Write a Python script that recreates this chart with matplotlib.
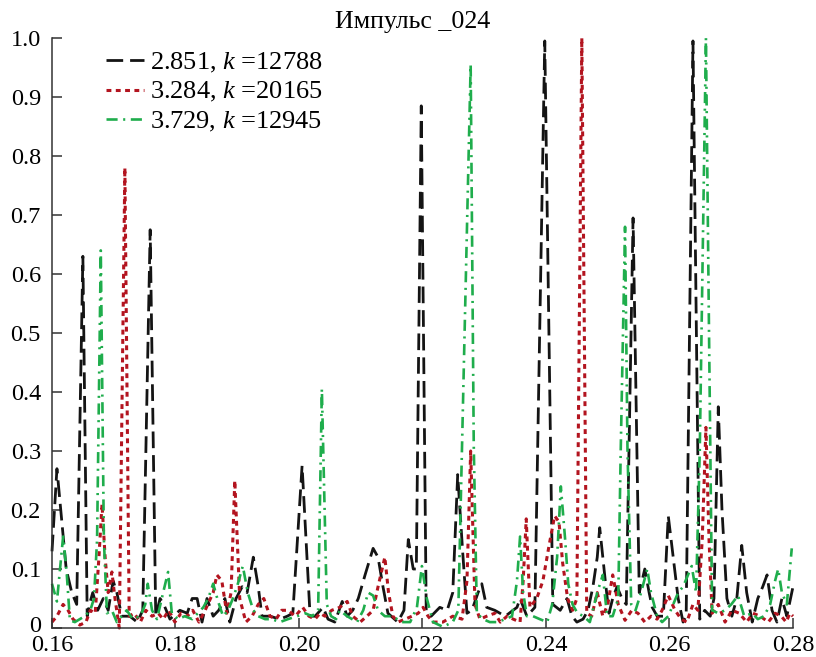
import matplotlib
matplotlib.use("Agg")
import matplotlib.pyplot as plt
import matplotlib.transforms as mtransforms

plt.rcParams['font.family'] = ['Liberation Serif', 'DejaVu Serif']
plt.rcParams['mathtext.fontset'] = 'custom'
plt.rcParams['mathtext.rm'] = 'Liberation Serif'
plt.rcParams['mathtext.it'] = 'Liberation Serif:italic'
plt.rcParams['lines.scale_dashes'] = False

# pulse spectra, three sensors
bk_x = [0.1600, 0.1608, 0.1615, 0.1623, 0.1632, 0.1640, 0.1650, 0.1657, 0.1662, 0.1666,
        0.1674, 0.1683, 0.1691, 0.1699, 0.1705, 0.1713, 0.1726, 0.1738, 0.1747, 0.1759,
        0.1768, 0.1775, 0.1781, 0.1791, 0.1807, 0.1819, 0.1827, 0.1835, 0.1843, 0.1851,
        0.1861, 0.1870, 0.1880, 0.1888, 0.1898, 0.1908, 0.1916, 0.1926, 0.1934, 0.1940,
        0.1953, 0.1969, 0.1981, 0.1990, 0.2005, 0.2018, 0.2026, 0.2039, 0.2047, 0.2058,
        0.2070, 0.2078, 0.2087, 0.2096, 0.2107, 0.2120, 0.2128, 0.2136, 0.2144, 0.2160,
        0.2170, 0.2177, 0.2185, 0.2190, 0.2198, 0.2206, 0.2214, 0.2228, 0.2240, 0.2249,
        0.2257, 0.2265, 0.2272, 0.2280, 0.2290, 0.2296, 0.2304, 0.2317, 0.2334, 0.2353,
        0.2358, 0.2369, 0.2382, 0.2398, 0.2411, 0.2423, 0.2434, 0.2442, 0.2450, 0.2460,
        0.2468, 0.2476, 0.2483, 0.2487, 0.2496, 0.2502, 0.2508, 0.2515, 0.2523, 0.2530,
        0.2541, 0.2551, 0.2560, 0.2567, 0.2572, 0.2580, 0.2590, 0.2598, 0.2606, 0.2614,
        0.2622, 0.2627, 0.2638, 0.2649, 0.2657, 0.2666, 0.2672, 0.2679, 0.2685, 0.2693,
        0.2701, 0.2709, 0.2717, 0.2725, 0.2734, 0.2743, 0.2751, 0.2758, 0.2766, 0.2774,
        0.2782, 0.2790, 0.2800]
bk_y = [0.13, 0.27, 0.19, 0.10, 0.06, 0.04, 0.63, 0.02, 0.045, 0.06,
        0.03, 0.05, 0.03, 0.08, 0.06, 0.02, 0.02, 0.01, 0.03, 0.675,
        0.02, 0.05, 0.04, 0.015, 0.03, 0.025, 0.05, 0.05, 0.01, 0.05,
        0.02, 0.03, 0.05, 0.01, 0.05, 0.07, 0.06, 0.12, 0.07, 0.02,
        0.02, 0.015, 0.02, 0.025, 0.275, 0.02, 0.02, 0.035, 0.015, 0.01,
        0.045, 0.02, 0.03, 0.05, 0.09, 0.135, 0.12, 0.07, 0.025, 0.01,
        0.03, 0.15, 0.10, 0.10, 0.885, 0.03, 0.02, 0.035, 0.03, 0.06,
        0.26, 0.13, 0.025, 0.03, 0.06, 0.075, 0.035, 0.03, 0.02, 0.035,
        0.05, 0.02, 0.035, 0.995, 0.04, 0.03, 0.05, 0.02, 0.01, 0.015,
        0.03, 0.07, 0.12, 0.17, 0.08, 0.025, 0.05, 0.07, 0.05, 0.04,
        0.695, 0.06, 0.10, 0.06, 0.035, 0.02, 0.02, 0.19, 0.12, 0.05,
        0.01, 0.02, 0.995, 0.015, 0.03, 0.02, 0.05, 0.375, 0.20, 0.05,
        0.02, 0.05, 0.14, 0.06, 0.01, 0.05, 0.07, 0.09, 0.03, 0.01,
        0.05, 0.02, 0.07]

rd_x = [0.1600, 0.1608, 0.1618, 0.1626, 0.1634, 0.1645, 0.1655, 0.1662, 0.1670, 0.1676,
        0.1681, 0.1686, 0.1691, 0.1697, 0.1702, 0.1709, 0.1718, 0.1725, 0.1733, 0.1743,
        0.1752, 0.1762, 0.1772, 0.1780, 0.1789, 0.1799, 0.1809, 0.1819, 0.1828, 0.1838,
        0.1848, 0.1861, 0.1867, 0.1875, 0.1883, 0.1890, 0.1896, 0.1904, 0.1914, 0.1924,
        0.1934, 0.1943, 0.1953, 0.1963, 0.1972, 0.1982, 0.1994, 0.2006, 0.2016, 0.2026,
        0.2034, 0.2042, 0.2053, 0.2066, 0.2078, 0.2087, 0.2099, 0.2110, 0.2120, 0.2128,
        0.2139, 0.2145, 0.2152, 0.2160, 0.2172, 0.2183, 0.2193, 0.2201, 0.2209, 0.2217,
        0.2233, 0.2249, 0.2264, 0.2272, 0.2278, 0.2285, 0.2293, 0.2304, 0.2317, 0.2326,
        0.2337, 0.2347, 0.2358, 0.2363, 0.2368, 0.2374, 0.2385, 0.2395, 0.2405, 0.2414,
        0.2421, 0.2427, 0.2435, 0.2443, 0.2450, 0.2458, 0.2466, 0.2474, 0.2483, 0.2492,
        0.2500, 0.2508, 0.2517, 0.2528, 0.2539, 0.2549, 0.2560, 0.2570, 0.2580, 0.2588,
        0.2598, 0.2609, 0.2619, 0.2628, 0.2638, 0.2646, 0.2653, 0.2659, 0.2664, 0.2669,
        0.2679, 0.2690, 0.2701, 0.2713, 0.2725, 0.2735, 0.2747, 0.2760, 0.2771, 0.2781,
        0.2789, 0.2795, 0.2800]
rd_y = [0.01, 0.02, 0.04, 0.03, 0.015, 0.005, 0.01, 0.03, 0.025, 0.12,
        0.21, 0.12, 0.06, 0.095, 0.05, 0.0, 0.78, 0.02, 0.025, 0.01,
        0.03, 0.02, 0.025, 0.015, 0.03, 0.01, 0.025, 0.02, 0.03, 0.01,
        0.03, 0.06, 0.09, 0.08, 0.025, 0.06, 0.25, 0.05, 0.01, 0.02,
        0.04, 0.05, 0.02, 0.015, 0.03, 0.03, 0.02, 0.035, 0.02, 0.015,
        0.025, 0.02, 0.03, 0.035, 0.045, 0.02, 0.01, 0.02, 0.03, 0.07,
        0.12, 0.06, 0.02, 0.01, 0.015, 0.02, 0.025, 0.035, 0.02, 0.01,
        0.01, 0.02, 0.015, 0.08, 0.30, 0.04, 0.015, 0.02, 0.025, 0.01,
        0.02, 0.015, 0.01, 0.08, 0.185, 0.035, 0.05, 0.08, 0.14, 0.19,
        0.18, 0.11, 0.05, 0.03, 0.05, 1.0, 0.025, 0.02, 0.06, 0.02,
        0.04, 0.09, 0.04, 0.013, 0.03, 0.025, 0.01, 0.02, 0.015, 0.03,
        0.055, 0.03, 0.015, 0.01, 0.04, 0.03, 0.15, 0.34, 0.15, 0.025,
        0.04, 0.01, 0.03, 0.025, 0.01, 0.025, 0.02, 0.01, 0.025, 0.02,
        0.01, 0.025, 0.02]

gn_x = [0.1600, 0.1608, 0.1618, 0.1624, 0.1629, 0.1637, 0.1645, 0.1653, 0.1662, 0.1668,
        0.1673, 0.1679, 0.1684, 0.1689, 0.1697, 0.1705, 0.1713, 0.1721, 0.1731, 0.1743,
        0.1751, 0.1755, 0.1762, 0.1770, 0.1780, 0.1788, 0.1794, 0.1804, 0.1815, 0.1827,
        0.1836, 0.1845, 0.1853, 0.1861, 0.1869, 0.1877, 0.1885, 0.1893, 0.1901, 0.1909,
        0.1917, 0.1926, 0.1934, 0.1945, 0.1956, 0.1969, 0.1982, 0.1997, 0.2010, 0.2021,
        0.2031, 0.2037, 0.2045, 0.2052, 0.2060, 0.2066, 0.2078, 0.2094, 0.2104, 0.2112,
        0.2120, 0.2128, 0.2139, 0.2151, 0.2167, 0.2180, 0.2191, 0.2199, 0.2207, 0.2217,
        0.2233, 0.2249, 0.2258, 0.2264, 0.2278, 0.2283, 0.2288, 0.2298, 0.2309, 0.2321,
        0.2334, 0.2345, 0.2353, 0.2358, 0.2363, 0.2369, 0.2379, 0.2390, 0.2402, 0.2410,
        0.2418, 0.2424, 0.2431, 0.2436, 0.2443, 0.2451, 0.2461, 0.2471, 0.2483, 0.2492,
        0.2499, 0.2508, 0.2517, 0.2521, 0.2528, 0.2532, 0.2538, 0.2545, 0.2554, 0.2564,
        0.2570, 0.2580, 0.2588, 0.2598, 0.2606, 0.2614, 0.2622, 0.2630, 0.2636, 0.2643,
        0.2649, 0.2659, 0.2664, 0.2669, 0.2679, 0.2690, 0.2700, 0.2711, 0.2721, 0.2734,
        0.2743, 0.2753, 0.2763, 0.2771, 0.2776, 0.2782, 0.2790, 0.2798]
gn_y = [0.075, 0.045, 0.155, 0.09, 0.013, 0.01, 0.015, 0.02, 0.03, 0.05,
        0.15, 0.64, 0.15, 0.025, 0.03, 0.01, 0.02, 0.03, 0.015, 0.02,
        0.04, 0.075, 0.03, 0.015, 0.06, 0.095, 0.025, 0.015, 0.02, 0.015,
        0.025, 0.035, 0.05, 0.075, 0.045, 0.02, 0.03, 0.05, 0.075, 0.105,
        0.06, 0.03, 0.02, 0.015, 0.015, 0.01, 0.015, 0.02, 0.025, 0.02,
        0.03, 0.405, 0.04, 0.02, 0.015, 0.03, 0.02, 0.01, 0.03, 0.06,
        0.055, 0.03, 0.02, 0.02, 0.01, 0.01, 0.035, 0.105, 0.05, 0.01,
        0.002, 0.01, 0.03, 0.31, 0.955, 0.31, 0.025, 0.015, 0.01, 0.01,
        0.015, 0.02, 0.08, 0.155, 0.06, 0.02, 0.02, 0.015, 0.01, 0.04,
        0.12, 0.24, 0.15, 0.075, 0.04, 0.025, 0.02, 0.01, 0.06, 0.09,
        0.02, 0.02, 0.05, 0.30, 0.68, 0.30, 0.04, 0.03, 0.06, 0.10,
        0.06, 0.02, 0.01, 0.02, 0.04, 0.06, 0.07, 0.09, 0.105, 0.06,
        0.30, 1.0, 0.50, 0.03, 0.025, 0.03, 0.04, 0.055, 0.02, 0.025,
        0.015, 0.02, 0.04, 0.08, 0.10, 0.06, 0.04, 0.135]

labels = [r'2.851, $k$ =12788', r'3.284, $k$ =20165', r'3.729, $k$ =12945']
x_ticks = [0.16, 0.18, 0.20, 0.22, 0.24, 0.26, 0.28]
y_ticks = [0, 0.1, 0.2, 0.3, 0.4, 0.5, 0.6, 0.7, 0.8, 0.9, 1.0]
y_tick_labels = ['0', '0.1', '0.2', '0.3', '0.4', '0.5', '0.6', '0.7', '0.8', '0.9', '1.0']

fig = plt.figure(figsize=(8.16, 6.57), dpi=100)
ax = fig.add_axes([52 / 816, 29 / 657, 741 / 816, 590 / 657])

ax.plot(bk_x, bk_y, color='#141414', lw=2.0, dashes=(12, 5), label=labels[0], clip_on=False)
ax.plot(rd_x, rd_y, color='#b3141f', lw=2.2, dashes=(3.5, 3.2), label=labels[1], clip_on=False)
ax.plot(gn_x, gn_y, color='#1fad4c', lw=1.9, dashes=(8, 4, 1.5, 4), label=labels[2], clip_on=False)

ax.set_xlim(0.16, 0.28)
ax.set_ylim(0, 1.0)
ax.set_xticks(x_ticks)
ax.set_xticklabels(['%.2f' % v for v in x_ticks])
ax.set_yticks(y_ticks)
ax.set_yticklabels(y_tick_labels)

for side in ['top', 'right']:
    ax.spines[side].set_visible(False)
for side in ['left', 'bottom']:
    ax.spines[side].set_linewidth(1.1)
    ax.spines[side].set_color('#333333')
ax.tick_params(direction='in', length=7, width=1.1, color='#333333', labelsize=17.5)
ax.tick_params(axis='y', pad=8)
ax.tick_params(axis='x', pad=5)

# lift the "0" label a little so it clears the 0.16 label below it
zero_label = ax.get_yticklabels()[0]
zero_label.set_transform(zero_label.get_transform() +
                         mtransforms.ScaledTranslation(0, 4 / 100, fig.dpi_scale_trans))

ax.set_title('Импульс _024', fontsize=18.7, pad=7.5, x=0.4865)

ax.legend(loc='upper left', bbox_to_anchor=(54 / 741, 0.978), frameon=False,
          fontsize=19, borderpad=0, borderaxespad=0, handlelength=1.45,
          handletextpad=0.22, labelspacing=0.2)

fig.savefig('out.png', dpi=100)
